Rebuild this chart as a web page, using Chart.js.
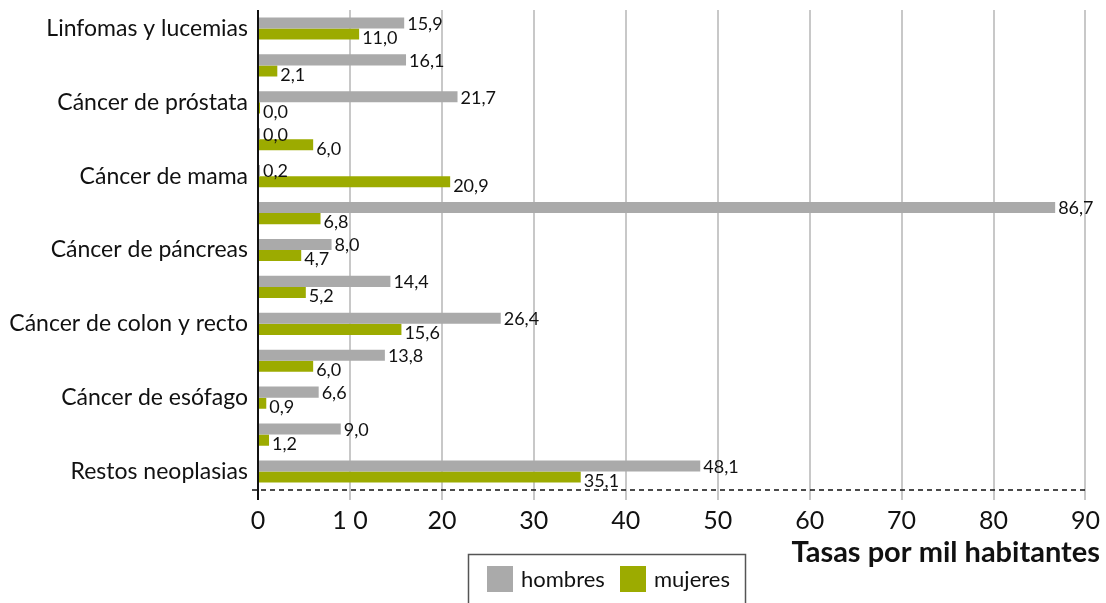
<!DOCTYPE html>
<html lang="es">
<head>
<meta charset="utf-8">
<title>Tasas por mil habitantes</title>
<script src="https://cdn.jsdelivr.net/npm/chart.js@4"></script>
<style>
  html, body { margin: 0; padding: 0; background: #fff; }
  #wrap { position: relative; width: 1106px; height: 603px; }
</style>
</head>
<body>
<div id="wrap"><canvas id="grafico"></canvas></div>
<script>
// categorías (las filas sin rótulo quedan en blanco)
const categorias = [
  'Linfomas y lucemias', '', 'Cáncer de próstata', '', 'Cáncer de mama', '',
  'Cáncer de páncreas', '', 'Cáncer de colon y recto', '', 'Cáncer de esófago', '',
  'Restos neoplasias'
];
const hombres = [15.9, 16.1, 21.7, 0.0, 0.2, 86.7, 8.0, 14.4, 26.4, 13.8, 6.6, 9.0, 48.1];
const mujeres = [11.0, 2.1, 0.0, 6.0, 20.9, 6.8, 4.7, 5.2, 15.6, 6.0, 0.9, 1.2, 35.1];
const etiquetasX = ['0', '1 0', '20', '30', '40', '50', '60', '70', '80', '90'];
const tituloX = 'Tasas por mil habitantes';

const GRIS = '#aaaaaa';
const VERDE = '#9cab00';
const FUENTE = 'Lato, "Open Sans", sans-serif';

// valores al final de cada barra
const valoresBarras = {
  id: 'valoresBarras',
  afterDatasetsDraw(chart) {
    const ctx = chart.ctx;
    ctx.save();
    ctx.font = '18px ' + FUENTE;
    ctx.fillStyle = '#111';
    ctx.textAlign = 'left';
    ctx.textBaseline = 'middle';
    chart.data.datasets.forEach((ds, i) => {
      const dy = i === 0 ? 1 : 4;
      chart.getDatasetMeta(i).data.forEach((bar, j) => {
        const txt = ds.data[j].toFixed(1).replace('.', ',');
        ctx.fillText(txt, bar.x + 3, bar.y + dy);
      });
    });
    ctx.restore();
  }
};

// línea base discontinua, título del eje y leyenda enmarcada
const tituloYLeyenda = {
  id: 'tituloYLeyenda',
  afterDraw(chart) {
    const ctx = chart.ctx;
    const area = chart.chartArea;
    ctx.save();
    ctx.strokeStyle = '#111';
    ctx.lineWidth = 1.5;
    ctx.setLineDash([5, 4]);
    ctx.beginPath();
    ctx.moveTo(area.left - 6, area.bottom);
    ctx.lineTo(area.right, area.bottom);
    ctx.stroke();
    ctx.setLineDash([]);

    ctx.fillStyle = '#111';
    ctx.font = 'bold 29px ' + FUENTE;
    ctx.textAlign = 'right';
    ctx.textBaseline = 'middle';
    ctx.fillText(tituloX, 1100, 553);

    ctx.strokeStyle = '#555';
    ctx.lineWidth = 1.5;
    ctx.strokeRect(468.5, 554.5, 277, 60);

    const items = [[487, 'hombres'], [620, 'mujeres']];
    ctx.font = '22px ' + FUENTE;
    ctx.textAlign = 'left';
    items.forEach(([x, txt], i) => {
      ctx.fillStyle = chart.data.datasets[i].backgroundColor;
      ctx.fillRect(x, 566, 26, 26);
      ctx.fillStyle = '#111';
      ctx.fillText(txt, x + 34, 580);
    });
    ctx.restore();
  }
};

new Chart(document.getElementById('grafico'), {
  type: 'bar',
  data: {
    labels: categorias,
    datasets: [
      { label: 'hombres', data: hombres, backgroundColor: GRIS },
      { label: 'mujeres', data: mujeres, backgroundColor: VERDE }
    ]
  },
  options: {
    indexAxis: 'y',
    responsive: true,
    maintainAspectRatio: false,
    animation: false,
    categoryPercentage: 0.6,
    barPercentage: 1.0,
    minBarLength: 2,
    layout: { padding: { left: 0, right: 17, top: 10, bottom: 0 } },
    plugins: {
      legend: { display: false },
      tooltip: { enabled: false }
    },
    scales: {
      x: {
        min: 0,
        max: 90,
        ticks: {
          stepSize: 10,
          padding: 6,
          color: '#111',
          font: { family: FUENTE, size: 25 },
          callback: (v, i) => etiquetasX[i]
        },
        grid: {
          color: c => c.index === 0 ? '#111' : '#c8c8c8',
          lineWidth: 2,
          tickLength: 10
        },
        border: { display: false },
        afterFit: s => { s.height = 113; }
      },
      y: {
        grid: { display: false },
        border: { display: false },
        ticks: {
          autoSkip: false,
          padding: 2,
          color: '#111',
          font: { family: FUENTE, size: 23 }
        },
        afterFit: s => {
          s.width = 258;
          s.paddingTop = 0;
          s.paddingBottom = 0;
        }
      }
    }
  },
  plugins: [valoresBarras, tituloYLeyenda]
});
</script>
</body>
</html>
